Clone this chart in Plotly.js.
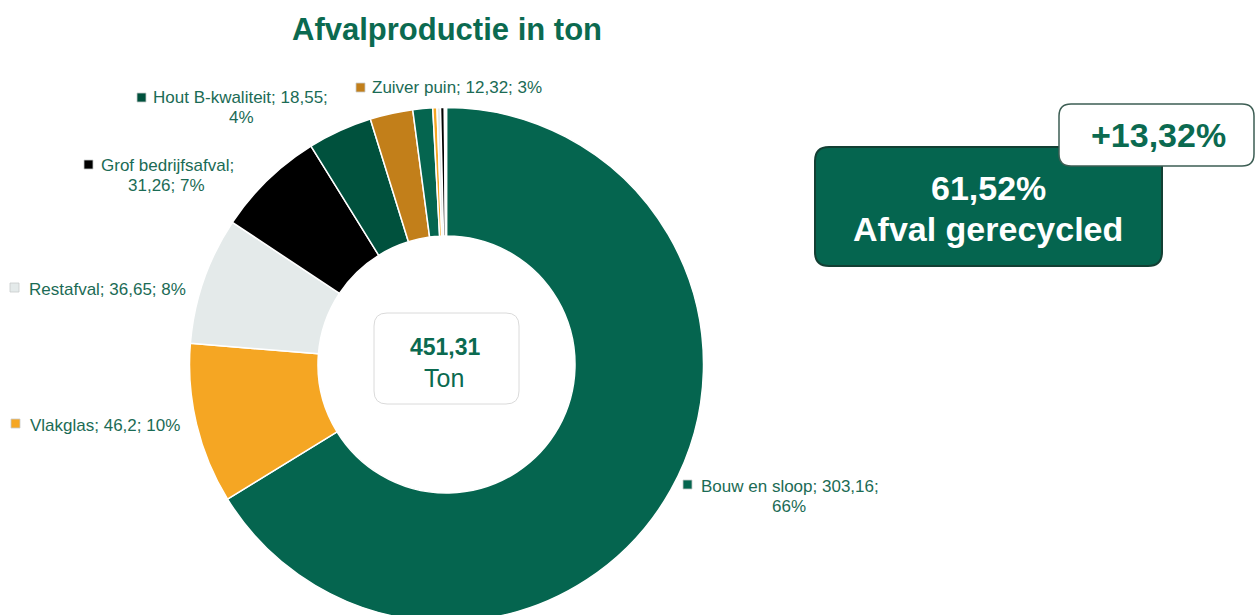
<!DOCTYPE html>
<html>
<head>
<meta charset="utf-8">
<script src="https://cdn.plot.ly/plotly-3.0.1.min.js"></script>
<style>
html,body{margin:0;padding:0;background:#fff;overflow:hidden;}
#chart{width:1256px;height:640px;}
</style>
</head>
<body>
<div id="chart"></div>
<script>
// ---- data ----
const categories = ["Bouw en sloop","Vlakglas","Restafval","Grof bedrijfsafval","Hout B-kwaliteit","Zuiver puin",
                    "Overig A","Overig B","Overig C","Overig D","Overig E","Overig F"];
const tons = [303.16, 46.2, 36.65, 31.26, 18.55, 12.32, 5.7, 1.2, 1.0, 1.1, 0.3, 0.3];
const labelledCount = 6;
const titleText = "Afvalproductie in ton";
const totalTon = 451.31;
const totalUnit = "Ton";
const recycledPct = 61.52;
const recycledText = "Afval gerecycled";
const changePct = 13.32;

// ---- styles / layout ----
const sliceColors = ["#05654F","#F5A623","#E4EAEA","#000000","#00513D","#C27F1A",
                     "#05654F","#F5A623","#E4EAEA","#000000","#E4EAEA","#C27F1A"];
const W = 1256, H = 640;
const X = p => p / W;
const Y = p => 1 - p / H;
const green = "#0B6A50";
const labelColor = "#1B6B55";
const font = "Liberation Sans, Arial, sans-serif";

// label placement: split = 'value' | 'name' | 'none'
const labelPos = [
  {split:'value', x1:699, y1:486, x2:789, y2:506, kx:683, ky:480},
  {split:'none',  x1:28,  y1:425, kx:11, ky:419},
  {split:'none',  x1:27,  y1:289, kx:10, ky:283},
  {split:'name',  x1:99,  y1:165, x2:166, y2:185, kx:84, ky:160},
  {split:'value', x1:151, y1:97,  x2:241, y2:118, kx:137, ky:93},
  {split:'none',  x1:370, y1:87,  kx:356, ky:83}
];

const fmt = v => String(v).replace('.', ',');
const sum = tons.reduce((a,b)=>a+b,0);

const annotations = [];
const shapes = [];

function rr(x0,y0,x1,y1,r){
  return `M${X(x0+r)},${Y(y0)} L${X(x1-r)},${Y(y0)} Q${X(x1)},${Y(y0)} ${X(x1)},${Y(y0+r)} ` +
         `L${X(x1)},${Y(y1-r)} Q${X(x1)},${Y(y1)} ${X(x1-r)},${Y(y1)} ` +
         `L${X(x0+r)},${Y(y1)} Q${X(x0)},${Y(y1)} ${X(x0)},${Y(y1-r)} ` +
         `L${X(x0)},${Y(y0+r)} Q${X(x0)},${Y(y0)} ${X(x0+r)},${Y(y0)} Z`;
}

for (let i = 0; i < labelledCount; i++) {
  const p = labelPos[i];
  const name = categories[i], val = fmt(tons[i]);
  const pct = Math.round(tons[i] / sum * 100);
  let l1, l2 = null;
  if (p.split === 'value') { l1 = `${name}; ${val};`; l2 = `${pct}%`; }
  else if (p.split === 'name') { l1 = `${name};`; l2 = `${val}; ${pct}%`; }
  else { l1 = `${name}; ${val}; ${pct}%`; }
  annotations.push({xref:'paper', yref:'paper', x:X(p.x1), y:Y(p.y1), xanchor:'left', yanchor:'middle',
    text:l1, showarrow:false, font:{family:font, size:17, color:labelColor}});
  if (l2) annotations.push({xref:'paper', yref:'paper', x:X(p.x2), y:Y(p.y2), xanchor:'center', yanchor:'middle',
    text:l2, showarrow:false, font:{family:font, size:17, color:labelColor}});
  shapes.push({type:'rect', xref:'paper', yref:'paper', x0:X(p.kx), x1:X(p.kx+9), y0:Y(p.ky+9), y1:Y(p.ky),
    fillcolor:sliceColors[i], line:{color:'#C8CCCC', width:0.8}, layer:'above'});
}

// center box
shapes.push({type:'path', xref:'paper', yref:'paper', path:rr(374,313,519,404,13),
  fillcolor:'#FFFFFF', line:{color:'#DADADA', width:1}, layer:'above'});
annotations.push({xref:'paper', yref:'paper', x:X(446), y:Y(347), xanchor:'center', yanchor:'middle',
  text:`<b>${fmt(totalTon)}</b>`, showarrow:false, font:{family:font, size:23, color:green}});
annotations.push({xref:'paper', yref:'paper', x:X(444), y:Y(378), xanchor:'center', yanchor:'middle',
  text:totalUnit, showarrow:false, font:{family:font, size:25, color:green}});

// green recycled box
shapes.push({type:'path', xref:'paper', yref:'paper', path:rr(815,147,1162,266,14),
  fillcolor:'#05654F', line:{color:'#123F33', width:2}, layer:'above'});
annotations.push({xref:'paper', yref:'paper', x:X(988), y:Y(188), xanchor:'center', yanchor:'middle',
  text:`<b>${fmt(recycledPct)}%</b>`, showarrow:false, font:{family:font, size:34, color:'#FFFFFF'}});
annotations.push({xref:'paper', yref:'paper', x:X(988), y:Y(229), xanchor:'center', yanchor:'middle',
  text:`<b>${recycledText}</b>`, showarrow:false, font:{family:font, size:34, color:'#FFFFFF'}});

// white change box
shapes.push({type:'path', xref:'paper', yref:'paper', path:rr(1059,104,1254,166,12),
  fillcolor:'#FFFFFF', line:{color:'#3D5E54', width:1.5}, layer:'above'});
annotations.push({xref:'paper', yref:'paper', x:X(1158), y:Y(135), xanchor:'center', yanchor:'middle',
  text:`<b>+${fmt(changePct)}%</b>`, showarrow:false, font:{family:font, size:34, color:green}});

const trace = {
  type:'pie',
  labels:categories,
  values:tons,
  sort:false,
  direction:'clockwise',
  rotation:0,
  hole:0.5,
  textinfo:'none',
  hoverinfo:'label+value+percent',
  marker:{colors:sliceColors, line:{color:'#FFFFFF', width:1.5}},
  domain:{x:[X(189.5), X(703.5)], y:[Y(621.5), Y(107.5)]},
  showlegend:false
};

const layout = {
  width:W, height:H,
  margin:{l:0, r:0, t:0, b:0},
  paper_bgcolor:'#FFFFFF',
  plot_bgcolor:'#FFFFFF',
  showlegend:false,
  title:{text:`<b>${titleText}</b>`, x:X(447), xanchor:'center', y:Y(29), yanchor:'middle',
         font:{family:font, size:31, color:green}},
  annotations:annotations,
  shapes:shapes
};

Plotly.newPlot('chart', [trace], layout, {displayModeBar:false, staticPlot:true});
</script>
</body>
</html>
